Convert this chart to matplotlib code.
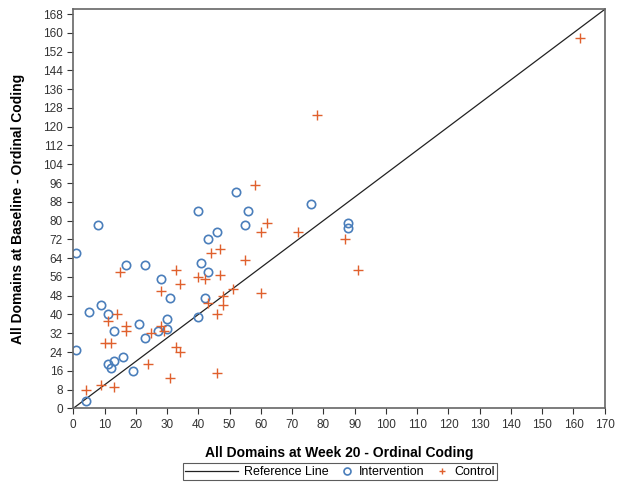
import matplotlib
matplotlib.use("Agg")
import matplotlib.pyplot as plt
from matplotlib.legend_handler import HandlerLine2D

# Intervention group (week 20, baseline)
int_w20 = [1, 1, 4, 5, 8, 9, 11, 11, 12, 13, 13, 16, 17, 19, 21, 23, 23, 27, 28, 30,
           30, 31, 40, 40, 41, 42, 43, 43, 46, 52, 55, 56, 76, 88, 88]
int_base = [66, 25, 3, 41, 78, 44, 40, 19, 17, 33, 20, 22, 61, 16, 36, 61, 30, 33, 55, 38,
            34, 47, 84, 39, 62, 47, 72, 58, 75, 92, 78, 84, 87, 79, 77]

# Control group (week 20, baseline)
ctl_w20 = [4, 9, 10, 12, 11, 14, 13, 15, 17, 17, 24, 25, 28, 28, 29, 31, 33, 34, 33, 34,
           40, 42, 44, 47, 47, 43, 48, 48, 46, 46, 51, 55, 58, 62, 60, 72, 87, 91, 60, 78, 162]
ctl_base = [8, 10, 28, 28, 37, 40, 9, 58, 35, 33, 19, 32, 50, 35, 33, 13, 59, 53, 26, 24,
            56, 55, 66, 68, 57, 45, 48, 44, 40, 15, 51, 63, 95, 79, 75, 75, 72, 59, 49, 125, 158]

x_ticks = list(range(0, 171, 10))
y_ticks = list(range(0, 169, 8))


class LongLineHandler(HandlerLine2D):
    # wider handle box just for the reference line
    def legend_artist(self, legend, orig_handle, fontsize, handlebox):
        handlebox.width = 4.2 * fontsize
        return super().legend_artist(legend, orig_handle, fontsize, handlebox)


plt.rcParams['font.family'] = ['Liberation Sans', 'DejaVu Sans']

fig = plt.figure(figsize=(6.19, 4.83), dpi=100)
ax = fig.add_axes([0.1184, 0.1546, 0.8586, 0.826])

# Reference line y = x
ref, = ax.plot([0, 170], [0, 170], color='#222222', lw=0.9, label='Reference Line')
ax.plot(int_w20, int_base, ls='none', marker='o', ms=6, mfc='none', mec='#4A7EBB',
        mew=1.2, label='Intervention')
ax.plot(ctl_w20, ctl_base, ls='none', marker='+', ms=7, color='#E0602D',
        mew=1.0, label='Control')

ax.set_xlim(0, 170)
ax.set_ylim(0, 170)
ax.set_xticks(x_ticks)
ax.set_yticks(y_ticks)
ax.tick_params(labelsize=8.5, colors='#333333', direction='out', length=4)
for s in ax.spines.values():
    s.set_color('#666666')
    s.set_linewidth(1.2)

ax.set_xlabel('All Domains at Week 20 - Ordinal Coding', fontsize=10, fontweight='bold', labelpad=11)
ax.set_ylabel('All Domains at Baseline - Ordinal Coding', fontsize=10, fontweight='bold', labelpad=13)

leg = fig.legend(loc='center', bbox_to_anchor=(0.549, 0.023), ncol=3, fontsize=9,
                 frameon=True, fancybox=False, handlelength=0.9, handletextpad=0.5,
                 columnspacing=1.0, borderpad=0.2, handler_map={ref: LongLineHandler()})
leg.get_frame().set_edgecolor('#333333')
leg.get_frame().set_linewidth(0.8)
for h in leg.legend_handles[1:]:
    h.set_markersize(5)

fig.savefig('out.png', dpi=100)
